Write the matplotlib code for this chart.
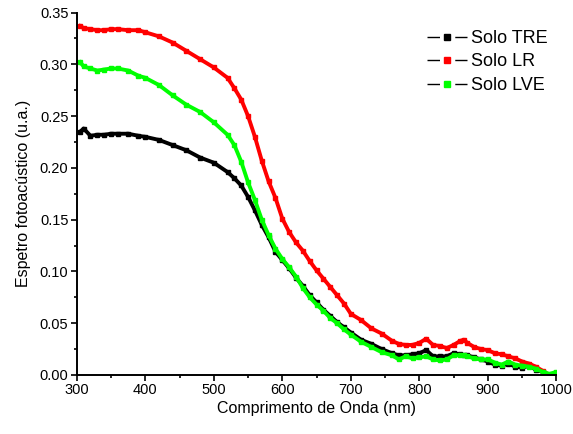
import numpy as np
import matplotlib
matplotlib.use('Agg')
import matplotlib.pyplot as plt
from matplotlib.lines import Line2D
from matplotlib.ticker import MultipleLocator

plt.rcParams['font.family'] = ['Liberation Sans', 'DejaVu Sans']

# comprimento de onda (nm)
wl = [305, 310, 320, 330, 340, 350, 360, 375, 390, 400, 420, 440, 460, 480, 500,
      520, 530, 540, 550, 560, 570, 580, 590, 600, 610, 620, 630, 640, 650, 660,
      670, 680, 690, 700, 715, 730, 745, 760, 770, 780, 790, 800, 810, 820, 830,
      840, 850, 860, 865, 870, 880, 890, 900, 910, 920, 930, 940, 950, 960, 970,
      980, 990, 1000]

solo_tre = [0.235, 0.238, 0.231, 0.232, 0.232, 0.233, 0.233, 0.233, 0.231, 0.230,
            0.227, 0.222, 0.217, 0.210, 0.205, 0.196, 0.190, 0.183, 0.172, 0.159,
            0.145, 0.133, 0.119, 0.111, 0.103, 0.094, 0.086, 0.077, 0.070, 0.063,
            0.057, 0.051, 0.046, 0.041, 0.034, 0.030, 0.025, 0.021, 0.019, 0.019,
            0.020, 0.021, 0.024, 0.018, 0.018, 0.018, 0.021, 0.020, 0.019, 0.019,
            0.017, 0.015, 0.013, 0.010, 0.009, 0.011, 0.008, 0.007, 0.009, 0.005,
            0.003, 0.000, 0.002]

solo_lr = [0.337, 0.335, 0.334, 0.333, 0.333, 0.334, 0.334, 0.333, 0.333, 0.331,
           0.327, 0.321, 0.313, 0.305, 0.297, 0.287, 0.277, 0.266, 0.250, 0.230,
           0.207, 0.187, 0.171, 0.151, 0.138, 0.128, 0.120, 0.110, 0.101, 0.093,
           0.085, 0.077, 0.069, 0.059, 0.053, 0.045, 0.040, 0.033, 0.030, 0.029,
           0.029, 0.031, 0.035, 0.029, 0.028, 0.026, 0.029, 0.033, 0.034, 0.031,
           0.027, 0.025, 0.024, 0.021, 0.020, 0.018, 0.016, 0.013, 0.011, 0.008,
           0.004, 0.000, 0.002]

solo_lve = [0.302, 0.298, 0.296, 0.294, 0.295, 0.296, 0.296, 0.294, 0.289, 0.287,
            0.280, 0.270, 0.261, 0.254, 0.244, 0.232, 0.222, 0.206, 0.186, 0.169,
            0.150, 0.135, 0.122, 0.112, 0.104, 0.095, 0.084, 0.075, 0.068, 0.062,
            0.055, 0.050, 0.044, 0.039, 0.032, 0.027, 0.022, 0.019, 0.015, 0.018,
            0.016, 0.017, 0.018, 0.015, 0.014, 0.015, 0.019, 0.019, 0.019, 0.018,
            0.016, 0.015, 0.015, 0.012, 0.010, 0.013, 0.010, 0.009, 0.008, 0.006,
            0.003, 0.001, 0.003]

series = [('Solo TRE', solo_tre, 'black'),
          ('Solo LR', solo_lr, '#ff0000'),
          ('Solo LVE', solo_lve, '#00ff00')]

fig = plt.figure(figsize=(5.73, 4.34), dpi=100)
ax = fig.add_axes([0.134, 0.136, 0.837, 0.835])

handles = []
for name, vals, cor in series:
    ax.plot(wl, vals, color=cor, lw=2.8, marker='s', ms=3.0, mfc=cor, mec=cor,
            solid_joinstyle='round')
    handles.append(Line2D([], [], color='black', lw=1, ls=(0, (9, 11)),
                          marker='s', ms=4, mfc=cor, mec=cor, label=name))

ax.set_xlim(300, 1000)
ax.set_ylim(0, 0.35)
ax.xaxis.set_major_locator(MultipleLocator(100))
ax.xaxis.set_minor_locator(MultipleLocator(50))
ax.yaxis.set_major_locator(MultipleLocator(0.05))
ax.yaxis.set_minor_locator(MultipleLocator(0.025))
ax.yaxis.set_major_formatter(matplotlib.ticker.FormatStrFormatter('%.2f'))

for s in ['top', 'right']:
    ax.spines[s].set_visible(False)
for s in ['left', 'bottom']:
    ax.spines[s].set_linewidth(1.4)
ax.tick_params(which='major', direction='out', length=4, width=1.2, labelsize=10.5, pad=2)
ax.tick_params(which='minor', direction='out', length=2.5, width=1.2)

ax.set_xlabel('Comprimento de Onda (nm)', fontsize=11.5, labelpad=3)
ax.set_ylabel('Espetro fotoacústico (u.a.)', fontsize=11.5, labelpad=6)

fig.legend(handles=handles, loc='upper left', bbox_to_anchor=(427 / 573, 1 - 30 / 434),
           frameon=False, fontsize=13, handlelength=2.2, handletextpad=0.25,
           labelspacing=0.36, borderpad=0, borderaxespad=0)

fig.savefig('out.png', dpi=100)
